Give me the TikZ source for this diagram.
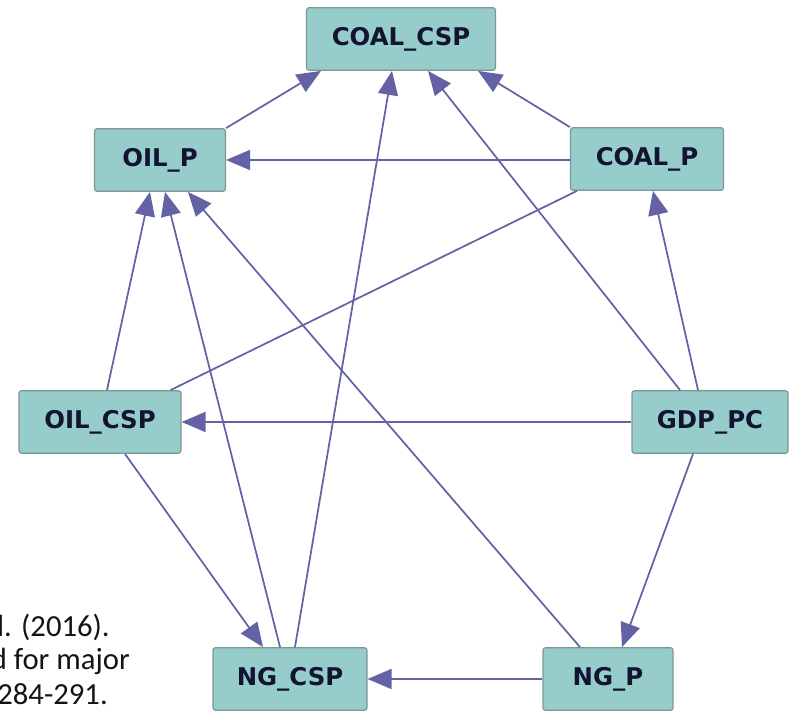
\documentclass[tikz,border=0pt]{standalone}
\usepackage{fontspec}
\newfontfamily\nodefont{DejaVu Sans}
\newfontfamily\capfont{Carlito}
\usetikzlibrary{arrows.meta,calc}
\definecolor{boxfill}{RGB}{150,204,202}
\definecolor{boxline}{RGB}{128,150,150}
\definecolor{boxtext}{RGB}{18,20,50}
\definecolor{edgecol}{RGB}{98,98,164}
\begin{document}
\begin{tikzpicture}[x=0.75pt,y=-0.75pt,
  var/.style={draw=boxline,line width=0.9pt,fill=boxfill,rounded corners=2pt,
    text=boxtext,font=\nodefont\bfseries\fontsize{18.3pt}{21pt}\selectfont,
    minimum height=47pt,inner sep=0pt},
  link/.style={draw=edgecol,line width=1.3pt},
  arr/.style={link,-{Triangle[length=18pt,width=15pt]}},
  captxt/.style={font=\capfont\fontsize{23pt}{27pt}\selectfont,text=black!92,
    anchor=base east,inner sep=0pt}]
\useasboundingbox (0,0) rectangle (792,712);
\clip (0,0) rectangle (792,712);

% variables
\node[var,minimum width=141.75pt] (coalcsp) at (401,39)  {COAL\_CSP};
\node[var,minimum width=98.25pt]  (oilp)    at (160,160) {OIL\_P};
\node[var,minimum width=114.75pt] (coalp)   at (647,159) {COAL\_P};
\node[var,minimum width=121.5pt]  (oilcsp)  at (100,422) {OIL\_CSP};
\node[var,minimum width=117pt]    (gdppc)   at (710,422) {GDP\_PC};
\node[var,minimum width=115.5pt]  (ngcsp)   at (290,679) {NG\_CSP};
\node[var,minimum width=97.5pt]   (ngp)     at (608,679) {NG\_P};

% edges into COAL_CSP
\draw[arr] (oilp.north east) -- ($(coalcsp.south)+(-80,0)$);
\draw[arr] ($(ngcsp.north)+(5,0)$) -- ($(coalcsp.south)+(-9,0)$);
\draw[arr] ($(gdppc.north)+(-30,0)$) -- ($(coalcsp.south)+(27,0)$);
\draw[arr] (coalp.north west) -- ($(coalcsp.south)+(77,0)$);

% edges into OIL_P
\draw[arr] (coalp.west |- oilp.east) -- (oilp.east);
\draw[arr] ($(oilcsp.north)+(7,0)$) -- ($(oilp.south)+(-10,0)$);
\draw[arr] ($(ngcsp.north)+(-10,0)$) -- ($(oilp.south)+(5,0)$);
\draw[arr] ($(ngp.north)+(-28,0)$) -- ($(oilp.south)+(28,0)$);

% undirected link
\draw[link] ($(coalp.south west)+(7,0)$) -- ($(oilcsp.north east)+(-11,0)$);

% remaining directed edges
\draw[arr] ($(gdppc.north)+(-12,0)$) -- ($(coalp.south)+(6,0)$);
\draw[arr] (gdppc.west) -- (oilcsp.east);
\draw[arr] ($(gdppc.south)+(-17,0)$) -- ($(ngp.north)+(14,0)$);
\draw[arr] ($(oilcsp.south)+(25,0)$) -- ($(ngcsp.north)+(-27,0)$);
\draw[arr] (ngp.west) -- (ngcsp.east);

% reference fragment at the lower left
\node[captxt] (cap1) at (110,636) {al. (2016).};
\node[captxt] (cap2) at (130,669) {ed for major};
\node[captxt] (cap3) at (108,704) {, 284-291.};
\end{tikzpicture}
\end{document}
